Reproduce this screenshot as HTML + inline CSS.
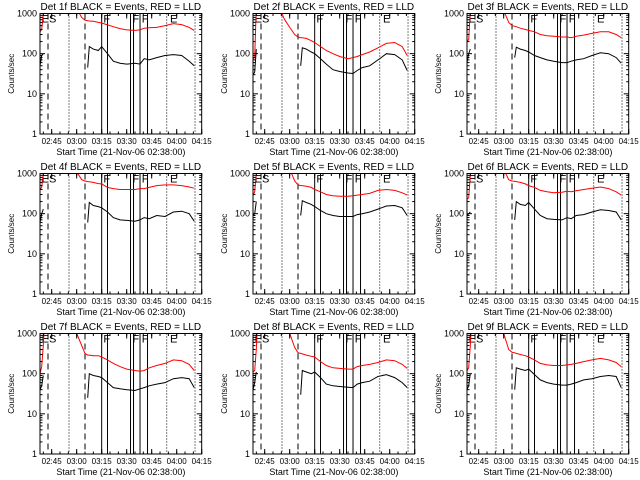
<!DOCTYPE html>
<html><head><meta charset="utf-8"><style>
html,body{margin:0;padding:0;background:#fff;}
svg{display:block;font-family:"Liberation Sans",sans-serif;}
</style></head><body>
<svg id="chart" width="640" height="480" viewBox="0 0 640 480" xmlns="http://www.w3.org/2000/svg"></svg>
<script>
const detNames = ["1f","2f","3f","4f","5f","6f","7f","8f","9f"];
const times = [0,1,2,3,16,19,22,25,27,28.6,29.6,32,35,37,40.5,44,48,52,57,60,62.5,65.5,70,75,80,85,89.5,92.5];
const red1 = [350,400,1000,3000,3000,3000,1300,800,680,660,650,640,600,580,520,470,420,390,380,390,430,440,450,500,560,530,450,380];
const blk1 = [50,90,100,null,null,null,null,null,null,45,150,130,120,150,100,65,58,55,58,55,75,70,80,90,95,90,65,50];
const red2 = [75,80,1500,3000,1300,700,450,300,260,250,250,240,210,190,150,120,100,85,75,80,85,95,110,140,180,190,150,90];
const blk2 = [30,35,130,null,null,null,null,null,null,50,140,130,110,100,75,55,40,36,33,32,38,45,50,70,100,95,70,38];
const red3 = [210,220,1200,3000,3000,3000,1200,600,500,480,470,430,400,380,350,300,280,270,260,260,250,270,290,320,350,350,300,250];
const blk3 = [60,100,130,null,null,null,null,null,null,80,145,130,120,110,90,80,70,65,60,60,65,70,75,90,105,100,80,58];
const red4 = [400,450,1000,3000,3000,3000,1100,700,650,630,620,600,560,550,450,420,400,400,400,420,420,450,500,520,520,500,460,430];
const blk4 = [60,100,130,null,null,null,null,null,null,60,190,160,150,140,110,80,70,68,65,70,80,75,90,85,110,115,100,65];
const red5 = [280,350,1000,3000,3000,3000,1300,650,520,500,500,480,450,400,350,300,280,270,270,280,290,300,320,380,400,380,330,290];
const blk5 = [90,100,200,null,null,null,null,null,null,90,210,190,170,150,120,100,90,85,85,85,95,100,110,130,155,160,140,90];
const red6 = [230,250,900,3000,3000,3000,1300,700,650,640,630,600,550,500,450,380,350,330,340,360,350,370,400,430,460,420,350,290];
const blk6 = [90,100,110,null,null,null,null,null,null,70,200,170,160,190,130,90,75,72,70,80,75,90,95,110,125,120,110,70];
const red7 = [100,150,500,3000,3000,2000,1000,500,320,290,290,280,280,260,220,180,150,130,120,115,120,140,160,180,220,210,170,120];
const blk7 = [40,50,90,null,null,null,null,null,null,25,100,90,85,80,60,45,42,40,38,42,45,50,55,60,75,80,75,45];
const red8 = [110,120,400,3000,3000,2000,1000,450,330,320,310,290,270,260,200,160,140,135,130,130,150,160,170,190,220,210,170,135];
const blk8 = [40,60,110,null,null,null,null,null,null,30,120,110,100,110,80,55,50,48,46,45,55,60,65,85,95,80,60,45];
const red9 = [120,140,500,3000,3000,2000,1000,400,340,330,320,300,280,260,220,180,165,160,160,165,170,180,200,220,240,220,190,150];
const blk9 = [40,50,100,null,null,null,null,null,null,40,140,130,120,130,95,70,60,55,52,52,55,60,70,75,85,90,85,45];
const redSeries = [red1,red2,red3,red4,red5,red6,red7,red8,red9];
const blkSeries = [blk1,blk2,blk3,blk4,blk5,blk6,blk7,blk8,blk9];
const xTickLabels = ["02:45","03:00","03:15","03:30","03:45","04:00","04:15"];
const xTickTimes = [7,22,37,52,67,82,97];
const yTickVals = [1,10,100,1000];
const yTickLabels = ["1","10","100","1000"];
const dashedTimes = [4.8,27];
const dottedTimes = [17.4,76,93];
const solidTimes = [37,40.5,54.3,56.1,60,64.5];
const flagLabels = ["ES","F","F","F","E"];
const flagTimes = [1,38,55.5,61,78];

const NS="http://www.w3.org/2000/svg";
const svg=document.getElementById('chart');
function mk(tag,attrs,parent){const e=document.createElementNS(NS,tag);for(const k in attrs)e.setAttribute(k,attrs[k]);(parent||svg).appendChild(e);return e;}
const BL=40,BR=201.7,BT=13.5,BB=134;
const TMAX=97;
for(let p=0;p<9;p++){
  const col=p%3,row=Math.floor(p/3);
  const ox=Math.round(col*213.33),oy=row*160;
  const g=mk('g',{transform:`translate(${ox},${oy})`});
  
  
  const xs=t=>BL+(t/TMAX)*(BR-BL);
  const ys=v=>BB-(Math.log10(v)/3)*(BB-BT);
  const cid='clip'+p;
  const cp=mk('clipPath',{id:cid},g);mk('rect',{x:BL,y:BT,width:BR-BL,height:BB-BT},cp);
  const t=mk('text',{x:(BL+BR)/2,y:10,'text-anchor':'middle','font-size':'10'},g);
  t.textContent='Det '+detNames[p]+' BLACK = Events, RED = LLD';
  
  
  const yl=mk('text',{x:0,y:0,transform:`translate(14,${(BT+BB)/2}) rotate(-90)`,'text-anchor':'middle','font-size':'8'},g);
  yl.textContent='Counts/sec';
  
  
  const xl=mk('text',{x:(BL+BR)/2,y:BB+21,'text-anchor':'middle','font-size':'9'},g);
  xl.textContent='Start Time (21-Nov-06 02:38:00)';
  
  
  dashedTimes.forEach(tt=>{const l=mk('line',{x1:xs(tt),x2:xs(tt),y1:BT,y2:BB,stroke:'#000','stroke-dasharray':'6,4'},g);});
  dottedTimes.forEach(tt=>{const l=mk('line',{x1:xs(tt),x2:xs(tt),y1:BT,y2:BB,stroke:'#000','stroke-dasharray':'1,2'},g);});
  solidTimes.forEach(tt=>{const l=mk('line',{x1:xs(tt),x2:xs(tt),y1:BT,y2:BB,stroke:'#000'},g);});
  flagLabels.forEach((s,i)=>{const f=mk('text',{x:xs(flagTimes[i]),y:BT+9,'font-size':'11'},g);f.textContent=s;});
  function path(arr){let d='',pen=false;arr.forEach((v,i)=>{if(v==null){pen=false;return;}d+=(pen?'L':'M')+xs(times[i]).toFixed(1)+','+ys(v).toFixed(1);pen=true;});return d;}
  const rp=mk('path',{d:path(redSeries[p]),fill:'none',stroke:'#ff0000','stroke-width':'1','clip-path':`url(#${cid})`},g);
  
  
  const bp=mk('path',{d:path(blkSeries[p]),fill:'none',stroke:'#000','stroke-width':'1','clip-path':`url(#${cid})`},g);
  
  
  const box=mk('rect',{x:BL,y:BT,width:BR-BL,height:BB-BT,fill:'none',stroke:'#000'},g);
  
  
  yTickVals.forEach((v,i)=>{
    const y=ys(v);
    mk('line',{x1:BL,x2:BL+5,y1:y,y2:y,stroke:'#000'},g);
    mk('line',{x1:BR,x2:BR-5,y1:y,y2:y,stroke:'#000'},g);
    const tl=mk('text',{x:BL-3,y:y+3,'text-anchor':'end','font-size':'9'},g);
    tl.textContent=yTickLabels[i];
    
    
    if(i<yTickVals.length-1){for(let m=2;m<10;m++){const ym=ys(v*m);mk('line',{x1:BL,x2:BL+2.5,y1:ym,y2:ym,stroke:'#000'},g);mk('line',{x1:BR,x2:BR-2.5,y1:ym,y2:ym,stroke:'#000'},g);}}
  });
  for(let m=2;m<=TMAX;m+=5){const x=xs(m);mk('line',{x1:x,x2:x,y1:BB,y2:BB-2.5,stroke:'#000'},g);mk('line',{x1:x,x2:x,y1:BT,y2:BT+2.5,stroke:'#000'},g);}
  xTickTimes.forEach((tt,i)=>{
    const x=xs(tt);
    mk('line',{x1:x,x2:x,y1:BB,y2:BB-5,stroke:'#000'},g);
    mk('line',{x1:x,x2:x,y1:BT,y2:BT+5,stroke:'#000'},g);
    const xt=mk('text',{x:x,y:BB+10,'text-anchor':'middle','font-size':'8'},g);
    xt.textContent=xTickLabels[i];
    
    
  });
}
</script>
</body></html>
